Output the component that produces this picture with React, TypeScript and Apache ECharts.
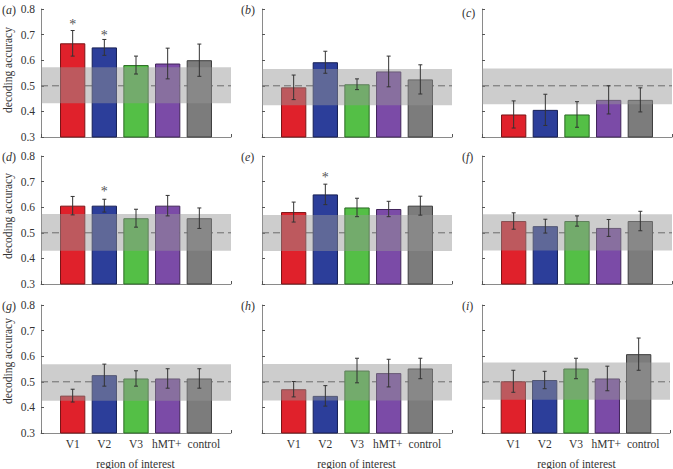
import React, { useEffect, useRef } from 'react';
import * as echarts from 'echarts';

const categories = ['V1', 'V2', 'V3', 'hMT+', 'control'];
const panelLabels = ['a', 'b', 'c', 'd', 'e', 'f', 'g', 'h', 'i'];

const meansA = [0.666, 0.65, 0.581, 0.587, 0.6];
const meansB = [0.494, 0.592, 0.506, 0.556, 0.525];
const meansC = [0.388, 0.406, 0.388, 0.445, 0.445];
const meansD = [0.606, 0.606, 0.557, 0.606, 0.557];
const meansE = [0.581, 0.65, 0.599, 0.593, 0.606];
const meansF = [0.546, 0.526, 0.546, 0.519, 0.546];
const meansG = [0.446, 0.526, 0.513, 0.513, 0.513];
const meansH = [0.471, 0.445, 0.544, 0.534, 0.552];
const meansI = [0.502, 0.507, 0.552, 0.513, 0.608];

const errA = [0.05, 0.031, 0.035, 0.06, 0.063];
const errB = [0.048, 0.043, 0.021, 0.06, 0.057];
const errC = [0.053, 0.061, 0.05, 0.055, 0.047];
const errD = [0.036, 0.025, 0.035, 0.04, 0.04];
const errE = [0.039, 0.04, 0.036, 0.03, 0.037];
const errF = [0.032, 0.027, 0.02, 0.033, 0.038];
const errG = [0.025, 0.043, 0.03, 0.038, 0.038];
const errH = [0.03, 0.04, 0.048, 0.054, 0.04];
const errI = [0.043, 0.034, 0.04, 0.048, 0.063];

const bandLow = [0.432, 0.424, 0.428, 0.43, 0.429, 0.431, 0.426, 0.427, 0.43];
const bandHigh = [0.572, 0.566, 0.568, 0.573, 0.57, 0.572, 0.569, 0.57, 0.575];
const chanceLevel = 0.5;

const starPanel = [0, 0, 3, 4];
const starCat = [0, 1, 1, 1];
const starY = [0.752, 0.709, 0.672, 0.728];

const means = [meansA, meansB, meansC, meansD, meansE, meansF, meansG, meansH, meansI];
const errs = [errA, errB, errC, errD, errE, errF, errG, errH, errI];

const barColors = ['#e0212b', '#2c3e9a', '#54bf46', '#7b4ba7', '#7c7c7c'];
const barEdges = ['#7a1416', '#161f55', '#2b6a24', '#40245a', '#3c3c3c'];
const labelRich = ['c', 'c', 'c', 'l', 'r'];

const FONT = "'Liberation Serif', 'DejaVu Serif', serif";
const TEXT = '#333';
const colLeft = [41, 262, 482];
const rowTop = [9, 156, 305];
const PW = 190;
const PH = 128;

export default function App() {
  const ref = useRef<HTMLDivElement>(null);
  useEffect(() => {
    if (!ref.current) return;
    const chart = echarts.init(ref.current, undefined, { renderer: 'svg' });
    const grids: any[] = [];
    const xAxes: any[] = [];
    const yAxes: any[] = [];
    const series: any[] = [];
    const graphics: any[] = [];

    for (let p = 0; p < 9; p++) {
      const row = Math.floor(p / 3);
      const col = p % 3;
      grids.push({ left: colLeft[col], top: rowTop[row], width: PW, height: PH });
      xAxes.push({
        type: 'value', gridIndex: p, min: 0, max: 6, interval: 1,
        axisLine: { show: true, lineStyle: { color: '#8a8a8a', width: 1 } },
        axisTick: { show: true, inside: true, length: 3, lineStyle: { color: '#555' } },
        axisLabel: {
          show: row === 2, margin: 5, fontFamily: FONT, fontSize: 11.5, color: TEXT,
          formatter: (v: number) => {
            const k = Math.round(v) - 1;
            const name = categories[k];
            return name ? '{' + labelRich[k] + '|' + name + '}' : '';
          },
          rich: {
            c: { fontFamily: FONT, fontSize: 11.5, color: TEXT },
            l: { fontFamily: FONT, fontSize: 11.5, color: TEXT, padding: [0, 2, 0, 0] },
            r: { fontFamily: FONT, fontSize: 11.5, color: TEXT, padding: [0, 0, 0, 9] },
          },
        },
        splitLine: { show: false },
      });
      yAxes.push({
        type: 'value', gridIndex: p, min: 0.3, max: 0.8, interval: 0.1,
        axisLine: { show: true, lineStyle: { color: '#8a8a8a', width: 1 } },
        axisTick: { show: true, inside: true, length: 3, lineStyle: { color: '#555' } },
        axisLabel: {
          show: col === 0, margin: 6, fontFamily: FONT, fontSize: 11.5, color: TEXT,
          formatter: (v: number) => v.toFixed(1),
        },
        splitLine: { show: false },
      });

      series.push({
        type: 'line', xAxisIndex: p, yAxisIndex: p, z: 1, silent: true,
        symbol: 'none', data: [[0, chanceLevel], [6, chanceLevel]],
        lineStyle: { color: '#444', width: 1, type: [7, 4] },
      });
      series.push({
        type: 'bar', xAxisIndex: p, yAxisIndex: p, z: 2, silent: true,
        barWidth: 25.3,
        data: means[p].map((v, k) => ({
          value: [k + 1, v],
          itemStyle: { color: barColors[k], borderColor: barEdges[k], borderWidth: 1 },
        })),
      });
      series.push({
        type: 'custom', xAxisIndex: p, yAxisIndex: p, z: 3, silent: true,
        data: [[bandLow[p], bandHigh[p]]],
        encode: { x: [], y: [0, 1] },
        renderItem: (params: any, api: any) => {
          const lo = api.value(0);
          const hi = api.value(1);
          const a = api.coord([0, hi]);
          const b = api.coord([6, lo]);
          return {
            type: 'rect',
            shape: { x: a[0], y: a[1], width: b[0] - a[0], height: b[1] - a[1] },
            style: { fill: 'rgba(150,150,150,0.48)' },
          };
        },
      });
      series.push({
        type: 'custom', xAxisIndex: p, yAxisIndex: p, z: 4, silent: true,
        data: means[p].map((v, k) => [k + 1, v, errs[p][k]]),
        encode: { x: 0, y: 1 },
        renderItem: (params: any, api: any) => {
          const x = api.value(0);
          const m = api.value(1);
          const e = api.value(2);
          const top = api.coord([x, m + e]);
          const bot = api.coord([x, m - e]);
          const st = { stroke: '#333', lineWidth: 1 };
          return {
            type: 'group',
            children: [
              { type: 'line', shape: { x1: top[0], y1: top[1], x2: bot[0], y2: bot[1] }, style: st },
              { type: 'line', shape: { x1: top[0] - 2, y1: top[1], x2: top[0] + 2, y2: top[1] }, style: st },
              { type: 'line', shape: { x1: bot[0] - 2, y1: bot[1], x2: bot[0] + 2, y2: bot[1] }, style: st },
            ],
          };
        },
      });
      const sd: number[][] = [];
      for (let s = 0; s < starPanel.length; s++) {
        if (starPanel[s] === p) sd.push([starCat[s] + 1, starY[s]]);
      }
      if (sd.length) {
        series.push({
          type: 'custom', xAxisIndex: p, yAxisIndex: p, z: 5, silent: true,
          data: sd,
          encode: { x: 0, y: 1 },
          renderItem: (params: any, api: any) => {
            const c = api.coord([api.value(0), api.value(1)]);
            return {
              type: 'text', x: c[0], y: c[1] + 3,
              style: { text: '*', fontFamily: FONT, fontSize: 14, fill: '#555', align: 'center', verticalAlign: 'middle' },
            };
          },
        });
      }

      graphics.push({
        type: 'text',
        x: col === 0 ? 2 : col === 1 ? 241 : 462,
        y: rowTop[row] + (col === 2 && row === 0 ? 4 : 1),
        style: {
          text: '{p|(}{i|' + panelLabels[p] + '}{p|)}',
          fontFamily: FONT, fontSize: 12, fill: TEXT, verticalAlign: 'middle',
          rich: {
            p: { fontFamily: FONT, fontSize: 12, fontStyle: 'normal', fill: TEXT },
            i: { fontFamily: FONT, fontSize: 12, fontStyle: 'italic', fill: TEXT },
          },
        },
      });
    }

    const nameY = [70, 216, 361];
    for (let r = 0; r < 3; r++) {
      graphics.push({
        type: 'text', x: 8, y: nameY[r], rotation: Math.PI / 2,
        style: { text: 'decoding accuracy', fontFamily: FONT, fontSize: 11.5, fill: TEXT, align: 'center', verticalAlign: 'middle' },
      });
    }
    for (let c = 0; c < 3; c++) {
      graphics.push({
        type: 'text', x: colLeft[c] + PW / 2 - 0.5, y: 464,
        style: { text: 'region of interest', fontFamily: FONT, fontSize: 11.5, fill: TEXT, align: 'center', verticalAlign: 'middle' },
      });
    }

    chart.setOption({
      animation: false,
      backgroundColor: '#fff',
      grid: grids,
      xAxis: xAxes,
      yAxis: yAxes,
      series,
      graphic: graphics,
    });
    return () => chart.dispose();
  }, []);
  return <div ref={ref} style={{ position: 'absolute', left: 0, top: 0, width: 673, height: 469 }} />;
}
